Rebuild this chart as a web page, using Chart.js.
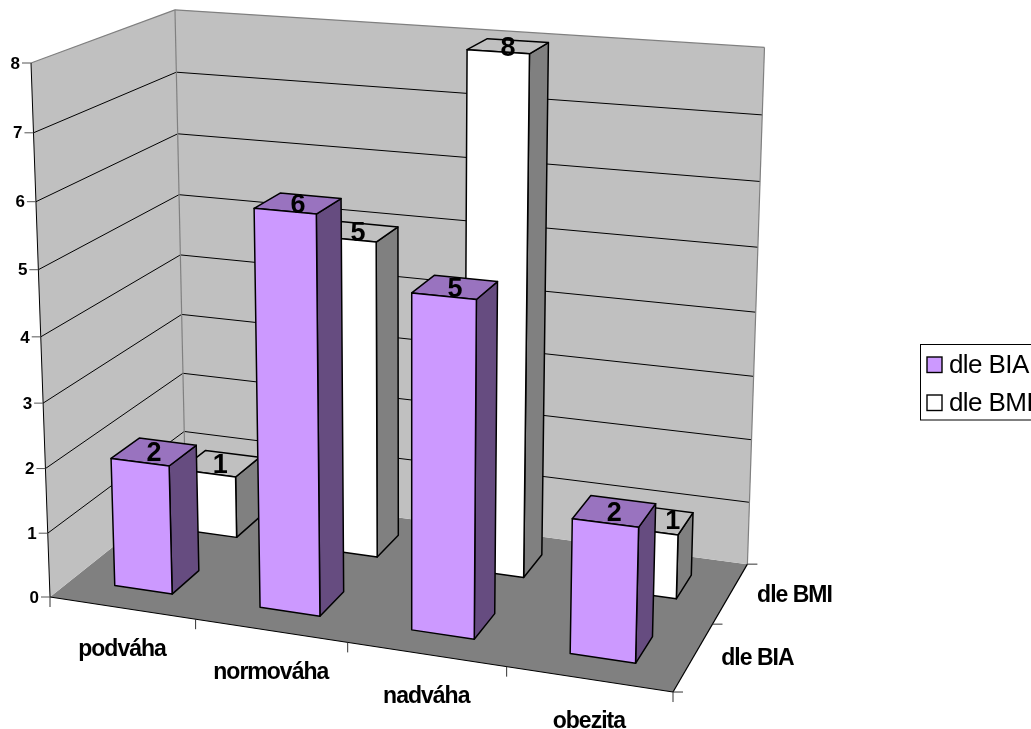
<!DOCTYPE html>
<html>
<head>
<meta charset="utf-8">
<title>BIA / BMI</title>
<script src="https://cdn.jsdelivr.net/npm/chart.js@4"></script>
<style>
  html, body { margin: 0; padding: 0; background: #fff; overflow: hidden; }
  canvas { display: block; }
</style>
</head>
<body>
<canvas id="chart" width="1031" height="729"></canvas>
<script>
// Category and series data
const categories = ['podváha', 'normováha', 'nadváha', 'obezita'];
const seriesNames = ['dle BIA', 'dle BMI'];
const valuesBIA = [2, 6, 5, 2];
const valuesBMI = [1, 5, 8, 1];
const valueTicksMax = 8;

// Face colours per series: front, top, side
const shadesBIA = ['#CC99FF', '#9973BF', '#664C80'];
const shadesBMI = ['#FFFFFF', '#C0C0C0', '#808080'];

const WALL = '#C0C0C0';
const FLOOR = '#808080';
const FONT = '"Liberation Sans", Arial, sans-serif';

// Gap between bars along the depth axis, as in a two-row 3D column layout
const BAR_DEPTH = 0.4;

// Perspective box: maps normalised (across, depth, height) to canvas pixels
const box = {
  x0: 50, y0: 597,
  ax: 565.8, ay: 36.2, g: -0.085,
  bx: 157.76, by: -49.3, h: 0.12,
  cx: -20.55, cy: -537.15, k: -0.05
};
function project(u, v, w) {
  const d = 1 + box.g * u + box.h * v + box.k * w;
  return {
    x: (box.x0 + box.ax * u + box.bx * v + box.cx * w) / d,
    y: (box.y0 + box.ay * u + box.by * v + box.cy * w) / d
  };
}

function poly(ctx, pts, fill, stroke, lw) {
  ctx.beginPath();
  pts.forEach((p, i) => i ? ctx.lineTo(p.x, p.y) : ctx.moveTo(p.x, p.y));
  ctx.closePath();
  if (fill) { ctx.fillStyle = fill; ctx.fill(); }
  if (stroke) { ctx.strokeStyle = stroke; ctx.lineWidth = lw; ctx.stroke(); }
}
function line(ctx, a, b, color, lw) {
  ctx.beginPath();
  ctx.moveTo(a.x, a.y);
  ctx.lineTo(b.x, b.y);
  ctx.strokeStyle = color;
  ctx.lineWidth = lw;
  ctx.stroke();
}
function label(ctx, text, x, y, font, align, spacing) {
  ctx.font = font;
  ctx.letterSpacing = spacing || '0px';
  ctx.textAlign = align || 'center';
  ctx.textBaseline = 'middle';
  ctx.fillStyle = '#000';
  ctx.fillText(text, x, y);
  ctx.letterSpacing = '0px';
}

// Normalised box coordinates of one bar element, taken from the chart's scales
function barBox(chart, bar, datasetIndex) {
  const area = chart.chartArea;
  const y = chart.scales.y;
  const u0 = (bar.x - bar.width / 2 - area.left) / area.width;
  const u1 = (bar.x + bar.width / 2 - area.left) / area.width;
  const w = (y.getPixelForValue(0) - bar.y) / (y.getPixelForValue(0) - y.getPixelForValue(valueTicksMax));
  const slot = 1 / seriesNames.length;
  const v0 = (datasetIndex + (1 - BAR_DEPTH) / 2) * slot;
  const v1 = v0 + BAR_DEPTH * slot;
  return { u0, u1, v0, v1, w };
}

const box3d = {
  id: 'box3d',
  // Walls, floor, gridlines, axes and their labels
  beforeDatasetsDraw(chart) {
    const ctx = chart.ctx;
    const yScale = chart.scales.y;
    const hOf = t => (yScale.getPixelForValue(0) - yScale.getPixelForValue(t)) /
                     (yScale.getPixelForValue(0) - yScale.getPixelForValue(valueTicksMax));
    ctx.save();
    ctx.lineJoin = 'round';

    poly(ctx, [project(0,0,0), project(0,1,0), project(1,1,0), project(1,0,0)], FLOOR);
    poly(ctx, [project(0,0,0), project(0,0,1), project(0,1,1), project(0,1,0)], WALL);
    poly(ctx, [project(0,1,0), project(0,1,1), project(1,1,1), project(1,1,0)], WALL);

    yScale.ticks.forEach(t => {
      const w = hOf(t.value);
      if (t.value > 0 && t.value < valueTicksMax) {
        line(ctx, project(0,0,w), project(0,1,w), '#000', 1);
        line(ctx, project(0,1,w), project(1,1,w), '#000', 1);
      }
    });

    // Wall outline
    line(ctx, project(0,0,1), project(0,1,1), FLOOR, 1.2);
    line(ctx, project(0,1,1), project(1,1,1), FLOOR, 1.2);
    line(ctx, project(0,1,0), project(0,1,1), FLOOR, 1.2);
    line(ctx, project(1,1,0), project(1,1,1), FLOOR, 1.2);

    // Value axis with ticks and labels
    line(ctx, project(0,0,0), project(0,0,1), '#000', 1);
    yScale.ticks.forEach(t => {
      const p = project(0, 0, hOf(t.value));
      line(ctx, { x: p.x - 9, y: p.y }, p, '#555', 1);
      label(ctx, String(t.value), p.x - 11, p.y + 1, 'bold 17px ' + FONT, 'right');
    });

    // Category axis along the front edge of the floor
    line(ctx, project(0,0,0), project(1,0,0), '#000', 1.2);
    for (let i = 0; i <= categories.length; i++) {
      const p = project(i / categories.length, 0, 0);
      line(ctx, p, { x: p.x, y: p.y + 10 }, '#333', 1);
    }
    categories.forEach((c, i) => {
      const p = project((i + 0.5) / categories.length, 0, 0);
      label(ctx, c, p.x, p.y + 42, 'bold 23px ' + FONT, 'center', '-1px');
    });

    // Depth axis along the right edge of the floor
    line(ctx, project(1,0,0), project(1,1,0), '#000', 1.2);
    for (let i = 0; i <= seriesNames.length; i++) {
      const p = project(1, i / seriesNames.length, 0);
      line(ctx, p, { x: p.x + 10, y: p.y }, '#333', 1);
    }
    seriesNames.forEach((s, i) => {
      const p = project(1, (i + 0.5) / seriesNames.length, 0);
      label(ctx, s, p.x + 64, p.y + 2, 'bold 23px ' + FONT, 'center', '-1px');
    });
    ctx.restore();
  },
  // Replaces the flat rectangles with three visible faces per bar
  beforeDatasetDraw(chart, args) {
    const ctx = chart.ctx;
    const meta = args.meta;
    const shades = chart.data.datasets[args.index].shades;
    ctx.save();
    ctx.lineJoin = 'round';
    meta.data.forEach(bar => {
      const b = barBox(chart, bar, args.index);
      const lw = 1.5;
      poly(ctx, [project(b.u1,b.v0,0), project(b.u1,b.v1,0), project(b.u1,b.v1,b.w), project(b.u1,b.v0,b.w)], shades[2], '#000', lw);
      poly(ctx, [project(b.u0,b.v0,b.w), project(b.u1,b.v0,b.w), project(b.u1,b.v1,b.w), project(b.u0,b.v1,b.w)], shades[1], '#000', lw);
      poly(ctx, [project(b.u0,b.v0,0), project(b.u1,b.v0,0), project(b.u1,b.v0,b.w), project(b.u0,b.v0,b.w)], shades[0], '#000', lw);
    });
    ctx.restore();
    return false;
  },
  // Value labels on the top faces, then the legend
  afterDatasetsDraw(chart) {
    const ctx = chart.ctx;
    ctx.save();
    chart.data.datasets.forEach((ds, di) => {
      chart.getDatasetMeta(di).data.forEach((bar, i) => {
        const b = barBox(chart, bar, di);
        const p = project((b.u0 + b.u1) / 2, (b.v0 + b.v1) / 2, b.w);
        // The last BMI label sits clear of the taller bar in front of it
        const nudge = (di === 1 && i === categories.length - 1) ? 18 : 0;
        label(ctx, String(ds.data[i]), p.x + nudge, p.y + 2, 'bold 27px ' + FONT);
      });
    });

    ctx.strokeStyle = '#000';
    ctx.lineWidth = 1;
    ctx.strokeRect(920.5, 344.5, 130, 75.5);
    chart.data.datasets.forEach((ds, di) => {
      const top = di === 0 ? 357 : 395;
      ctx.fillStyle = ds.shades[0];
      ctx.fillRect(927, top, 15, 15.5);
      ctx.lineWidth = 1.4;
      ctx.strokeRect(927, top, 15, 15.5);
      label(ctx, ds.label, 949, top + 9, '26px ' + FONT, 'left', '-0.6px');
    });
    ctx.restore();
  }
};

new Chart(document.getElementById('chart'), {
  type: 'bar',
  data: {
    labels: categories,
    datasets: [
      { label: seriesNames[0], data: valuesBIA, backgroundColor: shadesBIA[0], shades: shadesBIA },
      { label: seriesNames[1], data: valuesBMI, backgroundColor: shadesBMI[0], shades: shadesBMI }
    ]
  },
  options: {
    responsive: false,
    animation: false,
    events: [],
    layout: { padding: 0 },
    datasets: { bar: { grouped: false, categoryPercentage: BAR_DEPTH, barPercentage: 1 } },
    scales: {
      x: { display: false, offset: true },
      y: { display: false, min: 0, max: valueTicksMax, ticks: { stepSize: 1 } }
    },
    plugins: { legend: { display: false }, tooltip: { enabled: false } }
  },
  plugins: [box3d]
});
</script>
</body>
</html>
